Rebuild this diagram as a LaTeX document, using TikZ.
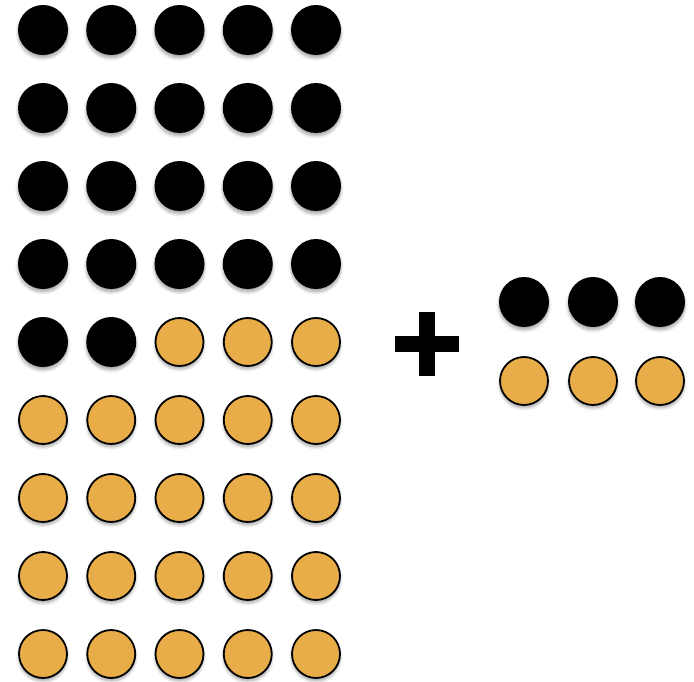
\documentclass[tikz,border=0pt]{standalone}
\usetikzlibrary{shadows.blur}
\definecolor{dotorange}{HTML}{E8AD48}
\tikzset{
  dot/.style={circle, minimum size=50pt, inner sep=0pt,
    blur shadow={shadow xshift=0pt, shadow yshift=-3pt, shadow blur steps=6, shadow blur radius=3pt, shadow opacity=35}},
  blackdot/.style={dot, fill=black},
  orangedot/.style={dot, fill=dotorange, draw=black, line width=1.8pt, minimum size=48pt},
  plusbar/.style={fill=black}
}
\begin{document}
\begin{tikzpicture}[x=1pt,y=-1pt]
\useasboundingbox (0,0) rectangle (694,682);
\foreach \r in {1,...,9}{
  \foreach \c in {1,...,5}{
    \pgfmathtruncatemacro{\idx}{(\r-1)*5+\c}
    \pgfmathsetmacro{\xx}{43+(\c-1)*68.25}
    \pgfmathsetmacro{\yy}{30+(\r-1)*78}
    \ifnum\idx<23
      \node[blackdot] (g\r-\c) at (\xx,\yy) {};
    \else
      \node[orangedot] (g\r-\c) at (\xx,\yy) {};
    \fi
  }
}
\foreach \c/\xx in {1/524,2/593,3/660}{
  \node[blackdot] (b\c) at (\xx,302) {};
  \node[orangedot] (o\c) at (\xx,381) {};
}
\node[plusbar, minimum width=64pt, minimum height=16pt, inner sep=0pt] (plush) at (427,344) {};
\node[plusbar, minimum width=16pt, minimum height=64pt, inner sep=0pt] (plusv) at (427,344) {};
\end{tikzpicture}
\end{document}
